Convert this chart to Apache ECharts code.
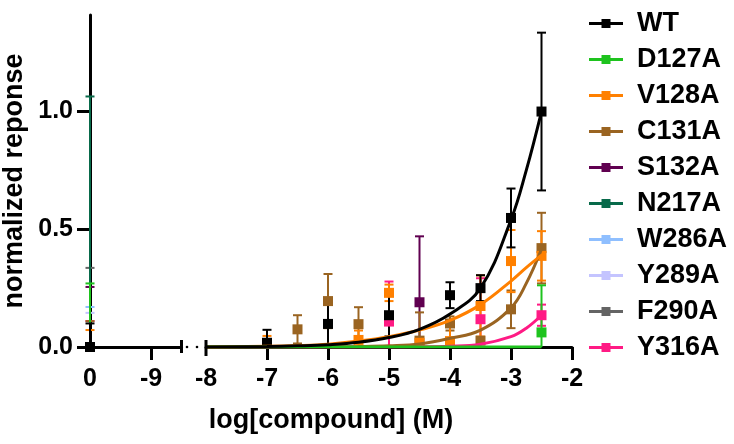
<!DOCTYPE html>
<html>
<head>
<meta charset="utf-8">
<title>normalized reponse</title>
<script src="https://cdn.jsdelivr.net/npm/echarts@6/dist/echarts.min.js"></script>
<style>html,body{margin:0;padding:0;background:#fff;}</style>
</head>
<body>
<div id="main" style="width:734px;height:444px;"></div>
<script>
// series names and colours, legend order
var names  = ['WT', 'D127A', 'V128A', 'C131A', 'S132A', 'N217A', 'W286A', 'Y289A', 'F290A', 'Y316A'];
var colors = ['#000000', '#1ec31e', '#ff8000', '#9a6421', '#600050', '#086a4a', '#8fbfff', '#c4c4ff', '#646464', '#ff1a84'];

// control point (plotted at "0" left of the break): mean 0, SD
var ctrlMean = [0, 0, 0, 0, 0, 0, 0, 0, 0, 0];
var ctrlErr  = [0.10, 0.27, 0.072, 0.11, 0.255, 1.064, 0.17, 0.145, 0.336, 0.11];

// dose points, log[compound]
var doses = [-7, -6.5, -6, -5.5, -5, -4.5, -4, -3.5, -3, -2.5];
var wtMean    = [0.018, null, 0.098, null, 0.135, null, 0.22, 0.25, 0.548, 1.0];
var wtErr     = [0.055, null, 0.10, null, 0.09, null, 0.055, 0.055, 0.125, 0.335];
var d127aMean = [null, null, null, null, null, null, null, null, null, 0.062];
var d127aErr  = [null, null, null, null, null, null, null, null, null, 0.2];
var v128aMean = [0.017, null, null, 0.03, 0.23, 0.018, 0.025, 0.174, 0.365, 0.387];
var v128aErr  = [0.03, null, null, 0.04, 0.035, 0.02, 0.08, 0.13, 0.132, 0.105];
var c131aMean = [null, 0.075, 0.195, 0.097, null, 0.027, 0.10, 0.027, 0.16, 0.42];
var c131aErr  = [null, 0.06, 0.115, 0.072, null, 0.12, 0.03, 0.01, 0.08, 0.15];
var s132aMean = [null, null, null, null, null, 0.19, null, null, null, null];
var s132aErr  = [null, null, null, null, null, 0.28, null, null, null, null];
var y316aMean = [null, null, null, null, 0.108, null, null, 0.118, null, 0.135];
var y316aErr  = [null, null, null, null, 0.17, null, null, 0.174, null, 0.045];

// fitted curves
var fitX     = [-8, -7, -6.5, -6, -5.5, -5, -4.5, -4, -3.5, -3, -2.75, -2.5];
var wtFit    = [0, 0.002, 0.005, 0.01, 0.02, 0.04, 0.075, 0.14, 0.25, 0.54, 0.75, 1.0];
var d127aFit = [0, 0, 0, 0, 0, 0, 0, 0, 0, 0, 0, 0];
var v128aFit = [0, 0.003, 0.006, 0.012, 0.025, 0.044, 0.072, 0.113, 0.18, 0.28, 0.337, 0.39];
var c131aFit = [0, 0, 0, 0.001, 0.002, 0.005, 0.013, 0.037, 0.072, 0.166, 0.27, 0.415];
var y316aFit = [0, 0, 0, 0, 0, 0, 0.001, 0.003, 0.012, 0.044, 0.08, 0.135];

// ticks
var leftTickVals = [-10, -9];          // "0" and "-9" left of the break
var leftTickText = ['0', '-9'];
var rightTickVals = [-8, -7, -6, -5, -4, -3, -2];
var yTickVals = [0, 0.5, 1.0];

var doseMeans = [wtMean, d127aMean, v128aMean, c131aMean, s132aMean, [], [], [], [], y316aMean];
var doseErrs  = [wtErr, d127aErr, v128aErr, c131aErr, s132aErr, [], [], [], [], y316aErr];
var fits      = [wtFit, d127aFit, v128aFit, c131aFit, null, null, null, null, null, y316aFit];

var FONT = '"Liberation Sans", Arial, sans-serif';
var chart = echarts.init(document.getElementById('main'));

function rows(xs, ys, es) {
    var out = [];
    for (var i = 0; i < xs.length; i++) {
        if (ys[i] == null) continue;
        out.push(es ? [xs[i], ys[i], es[i]] : [xs[i], ys[i]]);
    }
    return out;
}

function errBar(color) {
    return function (params, api) {
        var x = api.value(0), m = api.value(1), e = api.value(2);
        var low = m - e;
        var top = api.coord([x, m + e]);
        var bot = api.coord([x, Math.max(low, 0)]);
        var w = 4.5;
        var st = { stroke: color, lineWidth: 2 };
        var kids = [
            { type: 'line', shape: { x1: top[0], y1: top[1], x2: bot[0], y2: bot[1] }, style: st },
            { type: 'line', shape: { x1: top[0] - w, y1: top[1], x2: top[0] + w, y2: top[1] }, style: st }
        ];
        if (low >= 0) {
            kids.push({ type: 'line', shape: { x1: bot[0] - w, y1: bot[1], x2: bot[0] + w, y2: bot[1] }, style: st });
        }
        return { type: 'group', children: kids };
    };
}

var series = [];
// reverse order so WT ends up on top
for (var i = names.length - 1; i >= 0; i--) {
    var c = colors[i];
    if (fits[i]) {
        series.push({
            name: names[i], type: 'line', xAxisIndex: 1, yAxisIndex: 1,
            data: rows(fitX, fits[i]), smooth: 0.4, symbol: 'none',
            lineStyle: { color: c, width: 3 }, itemStyle: { color: c }
        });
    }
    series.push({
        name: names[i], type: 'custom', xAxisIndex: 0, yAxisIndex: 0,
        renderItem: errBar(c), itemStyle: { color: c },
        data: [[leftTickVals[0], ctrlMean[i], ctrlErr[i]]]
    });
    series.push({
        name: names[i], type: 'custom', xAxisIndex: 1, yAxisIndex: 1,
        renderItem: errBar(c), itemStyle: { color: c },
        data: rows(doses, doseMeans[i], doseErrs[i])
    });
    series.push({
        name: names[i], type: 'scatter', xAxisIndex: 0, yAxisIndex: 0,
        symbol: 'rect', symbolSize: 10, itemStyle: { color: c, opacity: 1 },
        data: [[leftTickVals[0], ctrlMean[i]]]
    });
    series.push({
        name: names[i], type: 'scatter', xAxisIndex: 1, yAxisIndex: 1,
        symbol: 'rect', symbolSize: 10, itemStyle: { color: c, opacity: 1 },
        data: rows(doses, doseMeans[i])
    });
}

var axisLine = { show: true, onZero: false, lineStyle: { color: '#000', width: 3 } };
var axisTick = { show: true, length: 13, lineStyle: { color: '#000', width: 3 } };
var labelStyle = { color: '#000', fontFamily: FONT, fontWeight: 'bold', fontSize: 25 };

chart.setOption({
    animation: false,
    backgroundColor: '#fff',
    grid: [
        { left: 90, top: 15, width: 91.5, height: 332 },
        { left: 206, top: 15, width: 366, height: 332 }
    ],
    xAxis: [
        {
            type: 'value', gridIndex: 0, min: -10, max: -8.5, interval: 1,
            axisLine: axisLine, splitLine: { show: false },
            axisTick: Object.assign({ customValues: [-9] }, axisTick),
            axisLabel: Object.assign({
                margin: 20, customValues: leftTickVals,
                formatter: function (v) { return leftTickText[leftTickVals.indexOf(v)]; }
            }, labelStyle)
        },
        {
            type: 'value', gridIndex: 1, min: -8, max: -2, interval: 1,
            axisLine: axisLine, splitLine: { show: false },
            axisTick: Object.assign({ customValues: rightTickVals.slice(1) }, axisTick),
            axisLabel: Object.assign({ margin: 20, customValues: rightTickVals }, labelStyle)
        }
    ],
    yAxis: [
        {
            type: 'value', gridIndex: 0, min: 0, max: 1.41, interval: 0.5,
            axisLine: axisLine, splitLine: { show: false },
            axisTick: Object.assign({ customValues: yTickVals }, axisTick),
            axisLabel: Object.assign({
                margin: 17, customValues: yTickVals,
                formatter: function (v) { return v.toFixed(1); }
            }, labelStyle),
            name: 'normalized reponse', nameLocation: 'middle', nameGap: 62,
            nameTextStyle: { color: '#000', fontFamily: FONT, fontWeight: 'bold', fontSize: 27 }
        },
        { type: 'value', gridIndex: 1, min: 0, max: 1.41, show: false }
    ],
    legend: {
        orient: 'vertical', left: 584, top: 5, itemWidth: 34, itemHeight: 9, itemGap: 9,
        data: names.map(function (n) {
            return { name: n, icon: 'path://M0,3H34V6H0Z M12.5,0H21.5V9H12.5Z' };
        }),
        itemStyle: { borderWidth: 0 },
        textStyle: {
            color: '#000', fontFamily: FONT, fontWeight: 'bold', fontSize: 27,
            lineHeight: 27, padding: [0, 0, 0, 9]
        }
    },
    series: series
});

// axis break marks and the shared x title
var pL = chart.convertToPixel({ xAxisIndex: 0, yAxisIndex: 0 }, [-8.5, 0]);
var p0 = chart.convertToPixel({ xAxisIndex: 0, yAxisIndex: 0 }, [-10, 0]);
var pR = chart.convertToPixel({ xAxisIndex: 1, yAxisIndex: 1 }, [-8, 0]);
var pE = chart.convertToPixel({ xAxisIndex: 1, yAxisIndex: 1 }, [-2, 0]);
var blk = { stroke: '#000', lineWidth: 3 };
chart.setOption({
    graphic: [
        { type: 'line', shape: { x1: pL[0], y1: pL[1] - 7, x2: pL[0], y2: pL[1] + 6 }, style: blk, z: 10 },
        { type: 'line', shape: { x1: pR[0], y1: pR[1] - 7, x2: pR[0], y2: pR[1] + 9 }, style: blk, z: 10 },
        { type: 'circle', shape: { cx: pL[0] + 5.5, cy: pL[1], r: 1.3 }, style: { fill: '#000' } },
        { type: 'circle', shape: { cx: pL[0] + 15.5, cy: pL[1], r: 1.3 }, style: { fill: '#000' } },
        {
            type: 'text', x: (p0[0] + pE[0]) / 2, y: 421,
            style: {
                text: 'log[compound] (M)', fill: '#000', font: 'bold 27px ' + FONT,
                textAlign: 'center', textVerticalAlign: 'middle'
            }
        }
    ]
});
</script>
</body>
</html>
